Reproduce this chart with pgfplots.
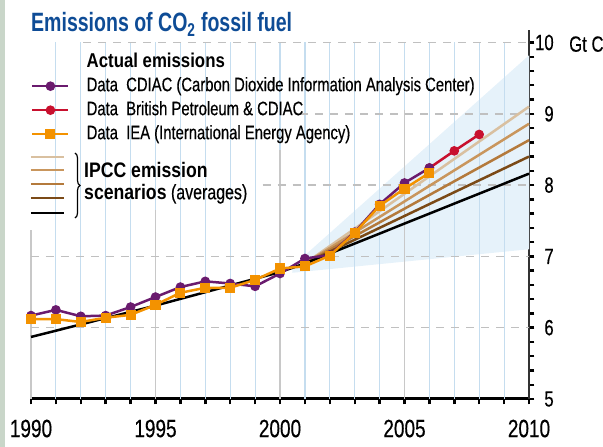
\documentclass[border=0pt]{standalone}
\usepackage{fontspec}
\setmainfont{Liberation Sans}[FakeStretch=0.76, UprightFeatures={FakeBold=0.4}, BoldFeatures={FakeStretch=0.84}]
\newfontfamily\titlefont{Liberation Sans Bold}[FakeStretch=0.737]
\usepackage{pgfplots}
\pgfplotsset{compat=1.18}
\usetikzlibrary{decorations.pathreplacing}
\definecolor{cpurple}{RGB}{106,27,110}
\definecolor{cred}{RGB}{200,16,46}
\definecolor{corange}{RGB}{243,146,0}
\definecolor{cs1}{RGB}{217,192,160}
\definecolor{cs2}{RGB}{201,150,93}
\definecolor{cs3}{RGB}{180,122,60}
\definecolor{cs4}{RGB}{123,74,23}
\definecolor{cfill}{RGB}{230,242,250}
\definecolor{cgrid}{RGB}{197,221,239}
\definecolor{cgrey}{RGB}{200,200,200}
\definecolor{cdash}{RGB}{192,192,192}
\definecolor{ctitle}{RGB}{14,76,150}
\definecolor{cstrip}{RGB}{201,214,201}
\begin{document}
\begin{tikzpicture}
\fill[cstrip] (-31pt,-48pt) rectangle (-26pt,399pt);
\begin{axis}[
  at={(0,0)}, anchor=south west,
  scale only axis, width=498pt, height=369pt,
  xmin=1990, xmax=2010, ymin=5, ymax=10.175,
  clip=false,
  axis x line*=bottom, axis y line*=right,
  x axis line style={line width=3pt, black, -},
  y axis line style={line width=1.2pt, black!80, -},
  xtick={1990,1995,...,2010}, minor x tick num=4,
  ytick={5,...,10}, minor y tick num=4,
  tick align=outside, major tick length=5.5pt, minor tick length=5.5pt,
  every tick/.style={black, line width=2.4pt},
  /pgf/number format/assume math mode=true,
  /pgf/number format/set thousands separator={},
  xticklabel style={font=\fontsize{25}{25}\selectfont, inner sep=0pt, yshift=-15pt},
  yticklabel style={font=\fontsize{22}{22}\selectfont, inner sep=0pt, text width=19pt, align=right, anchor=west, xshift=0pt},
  legend style={at={(axis description cs:0,0.9377)}, anchor=north west, draw=none, fill=none, inner sep=0pt,
     font=\fontsize{19.5}{19.5}\selectfont, cells={anchor=west},
     nodes={inner sep=0pt, text height=14pt, text depth=4pt}, row sep=6pt, column sep=17pt},
  legend image code/.code={\draw[mark repeat=2,mark phase=2] plot coordinates {(0pt,0pt) (18pt,0pt) (36pt,0pt)};},
]
% shaded uncertainty area
\addplot[fill=cfill, draw=none, forget plot] coordinates {(2000.5,6.86) (2010,9.82) (2010,7.10) (2000.5,6.77)} -- cycle;
% vertical grid
\pgfplotsinvokeforeach{1991,...,2009}{\draw[cgrid, line width=1.2pt] (axis cs:#1,5) -- (axis cs:#1,10);}
\draw[cgrey, line width=1.6pt] (axis cs:1990,5) -- (axis cs:1990,7.37);
\draw[cgrey, line width=1.6pt] (axis cs:1995,5) -- (axis cs:1995,7.65);
\draw[cgrey, line width=1.6pt] (axis cs:2000,5) -- (axis cs:2000,8.49);
\draw[cgrey, line width=1.6pt] (axis cs:2005,5) -- (axis cs:2005,9.05);
% dashed horizontal
\draw[cdash, line width=1.5pt, dash pattern=on 8pt off 7pt] (axis cs:1990,6) -- (axis cs:2010,6);
\draw[cdash, line width=1.5pt, dash pattern=on 8pt off 7pt] (axis cs:1990,7) -- (axis cs:2010,7);
\draw[cdash, line width=1.5pt, dash pattern=on 8pt off 7pt] (axis cs:1999.3,8) -- (axis cs:2010,8);
\draw[cdash, line width=1.5pt, dash pattern=on 8pt off 7pt] (axis cs:2000.8,9) -- (axis cs:2010,9);
\draw[cdash, line width=1.5pt, dash pattern=on 8pt off 7pt] (axis cs:1992.1,10) -- (axis cs:2010,10);
% scenarios
\addplot[cs1, line width=2.5pt, forget plot] coordinates {(2001,6.90) (2010,9.10)};
\addplot[cs2, line width=2.5pt, forget plot] coordinates {(2001,6.90) (2010,8.86)};
\addplot[cs3, line width=2.5pt, forget plot] coordinates {(2001,6.90) (2010,8.63)};
\addplot[cs4, line width=2.5pt, forget plot] coordinates {(2001,6.90) (2010,8.40)};
\addplot[black, line width=2.5pt, forget plot] coordinates {(1990,5.87) (1995,6.31) (2000,6.78) (2001,6.90) (2010,8.16)};
% data
\addplot[cred, line width=2.5pt, mark=*, mark size=3.5pt, forget plot] coordinates {(2006,8.24) (2007,8.48) (2008,8.71)};
\addplot[cpurple, line width=2.5pt, mark=*, mark size=3.5pt, forget plot] coordinates {
(1990,6.17)(1991,6.25)(1992,6.16)(1993,6.17)(1994,6.29)(1995,6.43)(1996,6.57)(1997,6.65)(1998,6.62)(1999,6.58)(2000,6.76)(2001,6.97)(2002,7.02)(2003,7.34)(2004,7.73)(2005,8.03)(2006,8.24)};
\addplot[corange, line width=2.5pt, mark=square*, mark size=3.8pt, forget plot] coordinates {
(1990,6.12)(1991,6.12)(1992,6.08)(1993,6.14)(1994,6.18)(1995,6.32)(1996,6.49)(1997,6.56)(1998,6.56)(1999,6.67)(2000,6.83)(2001,6.86)(2002,7.01)(2003,7.33)(2004,7.71)(2005,7.95)(2006,8.17)};
% legend
\addlegendimage{empty legend}\addlegendentry{\fontsize{20}{20}\selectfont\textbf{Actual emissions}}
\addlegendimage{cpurple, line width=2.5pt, mark=*, mark size=3.5pt}\addlegendentry{Data~~CDIAC (Carbon Dioxide Information Analysis Center)}
\addlegendimage{cred, line width=2.5pt, mark=*, mark size=3.5pt}\addlegendentry{Data~~British Petroleum \& CDIAC}
\addlegendimage{corange, line width=2.5pt, mark=square*, mark size=3.8pt}\addlegendentry{Data~~IEA (International Energy Agency)}
\end{axis}
% title
\node[anchor=base west, inner sep=0pt, text=ctitle, font=\fontsize{26.5}{26.5}\selectfont\titlefont] at (0pt,367.3pt) {Emissions of CO\textsubscript{2} fossil fuel};
\node[anchor=base west, inner sep=0pt, font=\fontsize{22}{22}\selectfont] at (538pt,347.3pt) {Gt C};
% IPCC legend
\draw[cs1, line width=2.5pt] (0pt,242pt) -- (33pt,242pt);
\draw[cs2, line width=2.5pt] (0pt,229pt) -- (33pt,229pt);
\draw[cs3, line width=2.5pt] (0pt,215pt) -- (33pt,215pt);
\draw[cs4, line width=2.5pt] (0pt,201pt) -- (33pt,201pt);
\draw[black, line width=2.5pt] (0pt,186pt) -- (33pt,186pt);
\draw[black, line width=1.2pt, decorate, decoration={brace, amplitude=5pt}] (44pt,246pt) -- (44pt,181pt);
\node[anchor=base west, inner sep=0pt, font=\fontsize{21}{21}\selectfont\bfseries] at (53pt,221.3pt) {IPCC emission};
\node[anchor=base west, inner sep=0pt, font=\fontsize{21}{21}\selectfont] at (53pt,199.7pt) {\textbf{scenarios} (averages)};
\pgfresetboundingbox
\path (-31pt,-48pt) rectangle (572pt,399pt);
\end{tikzpicture}
\end{document}
